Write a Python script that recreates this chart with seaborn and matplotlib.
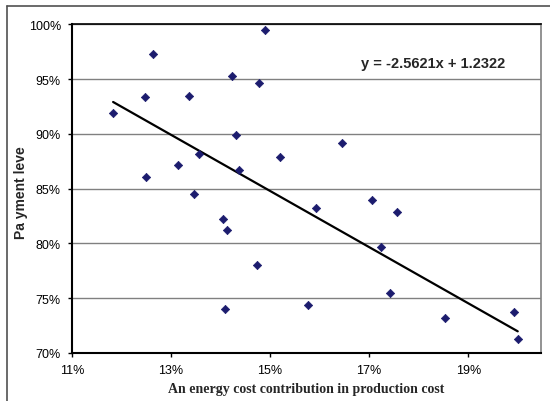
import matplotlib
matplotlib.use("Agg")
import matplotlib.pyplot as plt
from matplotlib.lines import Line2D
from matplotlib.ticker import FuncFormatter
import seaborn as sns
import numpy as np
import pandas as pd

# Data (fractions)
energy_share = [0.1183, 0.1264, 0.1247, 0.1249, 0.1314, 0.1337, 0.1357, 0.1347,
                0.1423, 0.1477, 0.1490, 0.1432, 0.1438, 0.1519, 0.1646, 0.1705,
                0.1404, 0.1413, 0.1473, 0.1409, 0.1593, 0.1757, 0.1724, 0.1577,
                0.1743, 0.1854, 0.1992, 0.2000]
payment_level = [0.919, 0.973, 0.934, 0.861, 0.872, 0.935, 0.882, 0.845,
                 0.953, 0.946, 0.995, 0.899, 0.867, 0.879, 0.892, 0.840,
                 0.822, 0.812, 0.780, 0.740, 0.832, 0.829, 0.797, 0.744,
                 0.755, 0.732, 0.737, 0.713]
trend_slope = -2.5621
trend_intercept = 1.2322
x_ticks = [0.11, 0.13, 0.15, 0.17, 0.19]
y_ticks = [0.70, 0.75, 0.80, 0.85, 0.90, 0.95, 1.00]

df = pd.DataFrame({"x": energy_share, "y": payment_level})

sns.set_style("white")
plt.rcParams["font.family"] = ["Liberation Sans", "DejaVu Sans"]

fig = plt.figure(figsize=(5.5, 4.02), dpi=100)
ax = fig.add_axes([72/550, 1-354/402, (541-72)/550, (354-25.3)/402])

for yt in y_ticks:
    ax.axhline(yt, color="#808080", lw=1.0, zorder=0)

sns.scatterplot(data=df, x="x", y="y", marker="D", s=18, color="#1c1c6e",
                edgecolor="#1c1c6e", linewidth=0.5, ax=ax, zorder=3)

tx = np.array([min(energy_share), max(energy_share)])
ty = trend_slope * tx + trend_intercept
sns.lineplot(x=tx, y=ty, color="black", lw=1.6, ax=ax, zorder=2)

ax.set_xlim(0.11, 0.2047)
ax.set_ylim(0.70, 1.00)
ax.set_xticks(x_ticks)
ax.set_yticks(y_ticks)
ax.xaxis.set_major_formatter(FuncFormatter(lambda v, p: f"{round(v*100)}%"))
ax.yaxis.set_major_formatter(FuncFormatter(lambda v, p: f"{round(v*100)}%"))
ax.tick_params(axis="both", direction="out", length=3, width=1, labelsize=9,
               colors="black", bottom=True, left=True)
ax.tick_params(axis="x", pad=5)
ax.tick_params(axis="y", pad=5)

for side in ["left", "bottom"]:
    ax.spines[side].set_color("black")
    ax.spines[side].set_linewidth(1.5)
ax.spines["top"].set_color("black")
ax.spines["top"].set_linewidth(1.2)
ax.spines["right"].set_color("#808080")
ax.spines["right"].set_linewidth(1.2)

ax.set_xlabel("An energy cost contribution in production cost",
              fontsize=10, fontweight="bold", family=["Liberation Serif", "DejaVu Serif"])
ax.set_ylabel("Pa yment leve", fontsize=10, fontweight="bold")
ax.xaxis.set_label_coords(0.5, -0.089)
ax.yaxis.set_label_coords(-0.093, 0.49)

fig.text(433/550, 1-64/402, f"y = {trend_slope}x + {trend_intercept}",
         fontsize=10.5, fontweight="bold", ha="center", va="center")

# outer chart frame
fig.add_artist(Line2D([7/550, 1.0], [1-7/402, 1-7/402], color="#505050", lw=1.2,
                      transform=fig.transFigure))
fig.add_artist(Line2D([7/550, 7/550], [0.0, 1-7/402], color="#505050", lw=1.2,
                      transform=fig.transFigure))

fig.savefig("out.png", dpi=100)
